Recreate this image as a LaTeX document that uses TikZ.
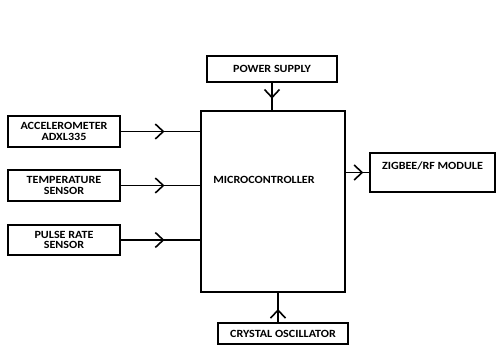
\documentclass[tikz,border=0pt]{standalone}
\usepackage{fontspec}
\setmainfont{Carlito}[FakeStretch=1.1]
\usetikzlibrary{arrows.meta,decorations.markings}
\tikzset{
  lbl/.style={font=\bfseries\fontsize{11}{10.5}\selectfont},
  box/.style={draw, line width=1.8pt, inner sep=0pt, align=center, lbl},
  conn/.style={line width=1.6pt},
  chev/.style={postaction={decorate}, decoration={markings, mark=at position #1 with {\arrow{Straight Barb[length=8pt,width=15pt,line width=1.6pt]}}}}
}
\begin{document}
\begin{tikzpicture}[x=1pt,y=-1pt]
\useasboundingbox[fill=white] (0,0) rectangle (496,346);
\node[box, minimum width=144, minimum height=181] (mcu) at (273,201.5) {};
\node[lbl] (mcut) at (264,180) {MICROCONTROLLER};
\node[box, minimum width=130, minimum height=26] (pwr) at (272,69) {POWER SUPPLY};
\node[box, minimum width=125, minimum height=39,
  label={[lbl, yshift=7pt]center:ZIGBEE/RF MODULE}] (zig) at (432.5,172.5) {};
\node[box, minimum width=130, minimum height=21] (xtal) at (283,333.5) {CRYSTAL OSCILLATOR};
\node[box, minimum width=112, minimum height=31] (acc) at (64,131.5) {ACCELEROMETER\\ADXL335};
\node[box, minimum width=112, minimum height=31] (temp) at (64,185.5) {TEMPERATURE\\SENSOR};
\node[box, minimum width=112, minimum height=30] (pulse) at (64,240) {PULSE RATE\\SENSOR};
\draw[conn, chev=0.58] (pwr.south) -- (pwr.south |- mcu.north);
\draw[conn, chev=0.45] ([xshift=-5pt]xtal.north) -- ([xshift=-5pt]xtal.north |- mcu.south);
\draw[conn, chev=0.75] (mcu.east |- zig.west) -- (zig.west);
\draw[conn, chev=0.55] (acc.east) -- (acc.east -| mcu.west);
\draw[conn, chev=0.55] (temp.east) -- (temp.east -| mcu.west);
\draw[conn, chev=0.55] (pulse.east) -- (pulse.east -| mcu.west);
\end{tikzpicture}
\end{document}
